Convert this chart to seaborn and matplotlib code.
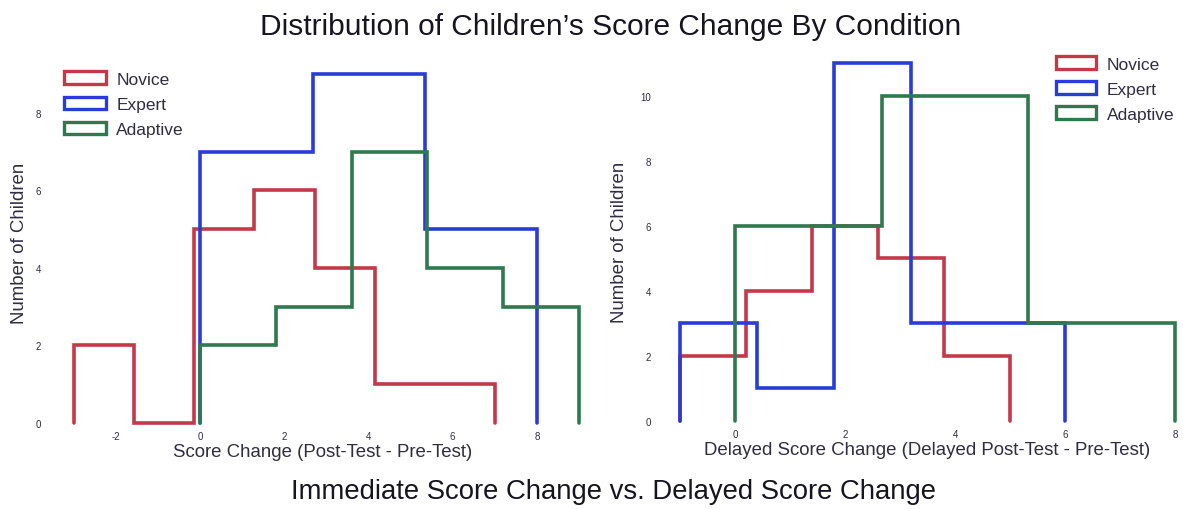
import numpy as np
import matplotlib
matplotlib.use("Agg")
import matplotlib.pyplot as plt
from matplotlib.patches import Patch
import seaborn as sns

sns.set_style("white")
plt.rcParams["font.family"] = ["Liberation Sans", "DejaVu Sans"]
plt.rcParams["axes.unicode_minus"] = False

conditions = ["Novice", "Expert", "Adaptive"]
colors = {"Novice": "#c4384a", "Expert": "#2a3cd8", "Adaptive": "#2c7a4e"}
text_color = "#2e2e42"

# counts per bin and the bin range for each condition (immediate change)
imm_counts = {
    "Novice": [2, 0, 5, 6, 4, 1, 1],
    "Expert": [7, 9, 5],
    "Adaptive": [2, 3, 7, 4, 3],
}
imm_range = {"Novice": (-3, 7), "Expert": (0, 8), "Adaptive": (0, 9)}

# delayed change
del_counts = {
    "Novice": [2, 4, 6, 5, 2],
    "Expert": [3, 1, 11, 3, 3],
    "Adaptive": [6, 10, 3],
}
del_range = {"Novice": (-1, 5), "Expert": (-1, 6), "Adaptive": (0, 8)}


def draw_hist(ax, counts, ranges):
    for cond in conditions:
        c = counts[cond]
        lo, hi = ranges[cond]
        n = len(c)
        edges = np.linspace(lo, hi, n + 1)
        mids = (edges[:-1] + edges[1:]) / 2
        sns.histplot(x=mids, weights=c, bins=n, binrange=(lo, hi),
                     element="step", fill=False, color=colors[cond],
                     lw=2.6, ax=ax)
        # drop the outline down to zero at both ends like a step histogram
        line = ax.lines[-1]
        x = np.asarray(line.get_xdata(), dtype=float)
        y = np.asarray(line.get_ydata(), dtype=float)
        line.set_data(np.r_[x[0], x, x[-1]], np.r_[0, y, 0])
        line.set_solid_joinstyle("miter")


fig = plt.figure(figsize=(11.83, 5.1), dpi=100)
ax1 = fig.add_axes([0.045, 0.163, 0.455, 0.735])
ax2 = fig.add_axes([0.561, 0.167, 0.437, 0.745])

draw_hist(ax1, imm_counts, imm_range)
draw_hist(ax2, del_counts, del_range)

ax1.set_xlim(-3.5, 9.3)
ax1.set_ylim(-0.08, 9.6)
ax1.set_xticks([-2, 0, 2, 4, 6, 8])
ax1.set_yticks([0, 2, 4, 6, 8])
ax1.set_xlabel("Score Change (Post-Test - Pre-Test)", fontsize=13.4,
               color=text_color, labelpad=1)

ax2.set_xlim(-1.3, 8.1)
ax2.set_ylim(-0.1, 11.6)
ax2.set_xticks([0, 2, 4, 6, 8])
ax2.set_yticks([0, 2, 4, 6, 8, 10])
ax2.set_xlabel("Delayed Score Change (Delayed Post-Test - Pre-Test)",
               fontsize=13.4, color=text_color, labelpad=1)

for ax in (ax1, ax2):
    sns.despine(ax=ax, left=True, bottom=True)
    ax.set_ylabel("Number of Children", fontsize=13.4, color=text_color)
    ax.tick_params(length=0, labelsize=7, labelcolor=text_color, pad=4)
    ax.tick_params(axis="y", pad=9)
    ax.grid(False)

ax1.xaxis.set_label_coords(0.5, -0.045)
ax2.xaxis.set_label_coords(0.51, -0.045)
ax1.yaxis.set_label_coords(-0.047, 0.49)
ax2.yaxis.set_label_coords(-0.069, 0.48)

handles = [Patch(facecolor="none", edgecolor=colors[c], lw=2.4, label=c)
           for c in conditions]
ax1.legend(handles=handles, loc="upper left", bbox_to_anchor=(0.047, 0.875),
           bbox_transform=fig.transFigure, frameon=False, fontsize=12.5,
           handlelength=2.4, handleheight=0.75, labelspacing=0.56,
           handletextpad=0.6, borderpad=0, labelcolor=text_color)
ax2.legend(handles=handles, loc="upper right", bbox_to_anchor=(1.0, 0.905),
           bbox_transform=fig.transFigure, frameon=False, fontsize=12.5,
           handlelength=2.3, handleheight=0.75, labelspacing=0.56,
           handletextpad=0.6, borderpad=0, labelcolor=text_color)

fig.text(0.516, 0.948, "Distribution of Children\u2019s Score Change By Condition",
         ha="center", va="center", fontsize=21.5, color="#151520")
fig.text(0.519, 0.036, "Immediate Score Change vs. Delayed Score Change",
         ha="center", va="center", fontsize=19.8, color="#151520")

fig.savefig("out.png", dpi=100)
